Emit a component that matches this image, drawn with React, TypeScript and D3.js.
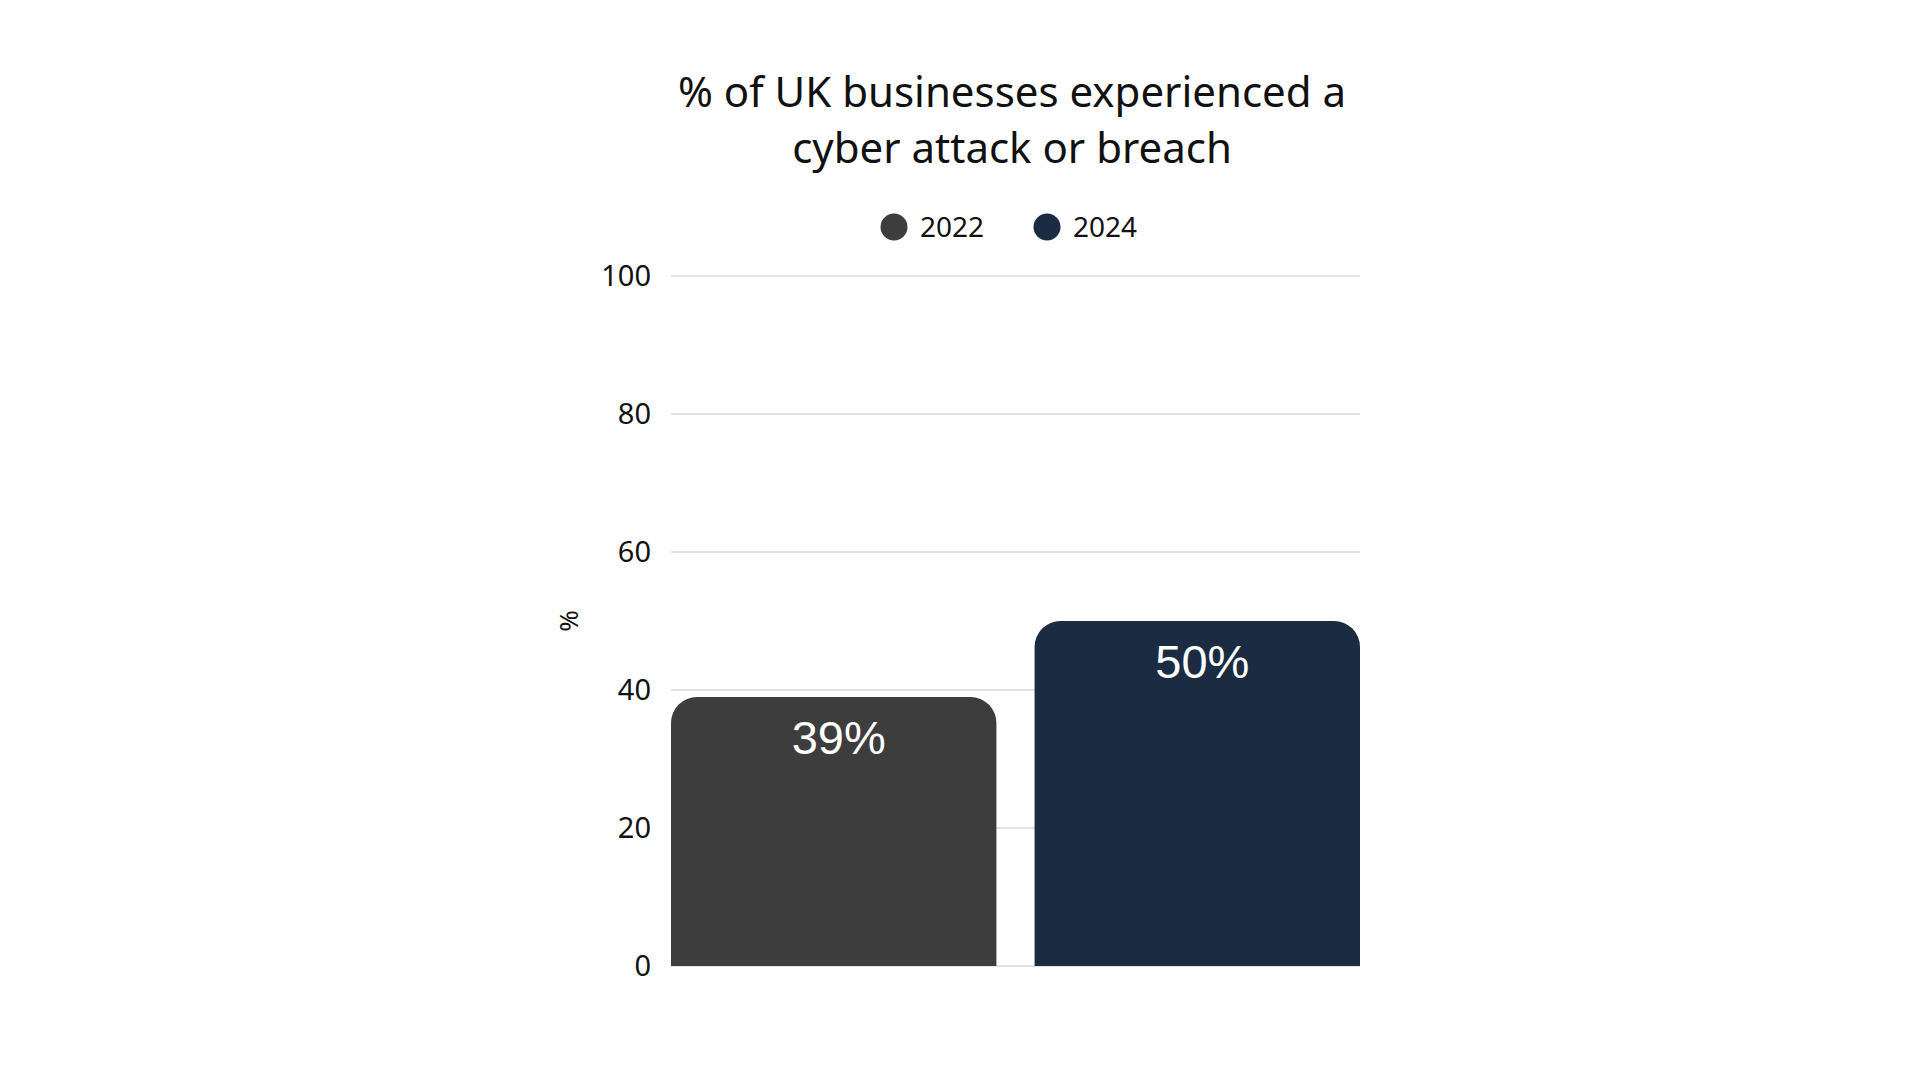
import { useEffect, useRef } from "react";
import * as d3 from "d3";

// Chart data
const years = ["2022", "2024"];
const values = [39, 50];
const barColors = ["#3d3d3d", "#1b2b42"];
const yTicks = [0, 20, 40, 60, 80, 100];
const titleLines = ["% of UK businesses experienced a", "cyber attack or breach"];

const FONT = "'Noto Sans', 'Open Sans', sans-serif";

export default function App() {
  const svgRef = useRef<SVGSVGElement>(null);

  useEffect(() => {
    if (!svgRef.current) return;
    const svg = d3.select(svgRef.current);
    svg.selectAll("*").remove();

    const width = 1920;
    const height = 1080;
    const margin = { top: 276, right: 560, bottom: 114, left: 671 };
    const plotW = width - margin.left - margin.right;
    const plotH = height - margin.top - margin.bottom;

    svg.append("rect").attr("width", width).attr("height", height).attr("fill", "#ffffff");

    // Title
    svg
      .append("text")
      .attr("x", 1012)
      .attr("y", 107)
      .attr("text-anchor", "middle")
      .style("font-family", FONT)
      .style("font-size", "42px")
      .attr("fill", "#111")
      .selectAll("tspan")
      .data(titleLines)
      .join("tspan")
      .attr("x", 1012)
      .attr("dy", (_d, i) => (i === 0 ? 0 : 56))
      .text((d) => d);

    // Legend
    const legendX = [894, 1047];
    const legend = svg
      .append("g")
      .selectAll("g")
      .data(years)
      .join("g")
      .attr("transform", (_d, i) => `translate(${legendX[i]},227)`);
    legend
      .append("circle")
      .attr("r", 13.5)
      .attr("fill", (_d, i) => barColors[i]);
    legend
      .append("text")
      .attr("x", 26)
      .attr("dy", "0.36em")
      .style("font-family", FONT)
      .style("font-size", "28px")
      .attr("fill", "#111")
      .text((d) => d);

    const g = svg
      .append("g")
      .attr("transform", `translate(${margin.left},${margin.top})`);

    const x = d3
      .scaleBand<string>()
      .domain(years)
      .range([0, plotW])
      .paddingInner(0.105)
      .paddingOuter(0);

    const y = d3.scaleLinear().domain([0, 100]).range([plotH, 0]);

    // Grid lines
    g.append("g")
      .selectAll("line")
      .data(yTicks)
      .join("line")
      .attr("x1", 0)
      .attr("x2", plotW)
      .attr("y1", (d) => y(d))
      .attr("y2", (d) => y(d))
      .attr("stroke", "#d9d9d9")
      .attr("stroke-width", 1.5);

    // Y axis labels
    const yAxis = d3
      .axisLeft(y)
      .tickValues(yTicks)
      .tickSize(0)
      .tickPadding(20);
    const yAxisGroup = g.append("g").call(yAxis);
    yAxisGroup.select(".domain").remove();
    yAxisGroup
      .selectAll("text")
      .style("font-family", FONT)
      .style("font-size", "29px")
      .attr("fill", "#111");

    // Y axis title
    g.append("text")
      .attr("transform", `translate(${569 - margin.left},${621 - margin.top}) rotate(-90)`)
      .attr("text-anchor", "middle")
      .attr("dy", "0.35em")
      .style("font-family", FONT)
      .style("font-size", "26px")
      .attr("fill", "#111")
      .text("%");

    // Bars with rounded top corners
    const r = 26;
    const barPath = (x0: number, w: number, yTop: number, yBase: number) => {
      const p = d3.path();
      p.moveTo(x0, yBase);
      p.lineTo(x0, yTop + r);
      p.arcTo(x0, yTop, x0 + r, yTop, r);
      p.lineTo(x0 + w - r, yTop);
      p.arcTo(x0 + w, yTop, x0 + w, yTop + r, r);
      p.lineTo(x0 + w, yBase);
      p.closePath();
      return p.toString();
    };

    g.append("g")
      .selectAll("path")
      .data(values)
      .join("path")
      .attr("d", (d, i) => barPath(x(years[i]) as number, x.bandwidth(), y(d), y(0)))
      .attr("fill", (_d, i) => barColors[i]);

    // Value labels
    g.append("g")
      .selectAll("text")
      .data(values)
      .join("text")
      .attr("x", (_d, i) => (x(years[i]) as number) + x.bandwidth() / 2 + 5)
      .attr("y", (d) => y(d) + 57)
      .attr("text-anchor", "middle")
      .style("font-family", "'Liberation Sans', Arial, sans-serif")
      .style("font-size", "47px")
      .attr("fill", "#ffffff")
      .text((d) => `${d}%`);
  }, []);

  return (
    <svg
      ref={svgRef}
      width={1920}
      height={1080}
      viewBox="0 0 1920 1080"
      style={{ position: "absolute", left: 0, top: 0, display: "block" }}
    />
  );
}
